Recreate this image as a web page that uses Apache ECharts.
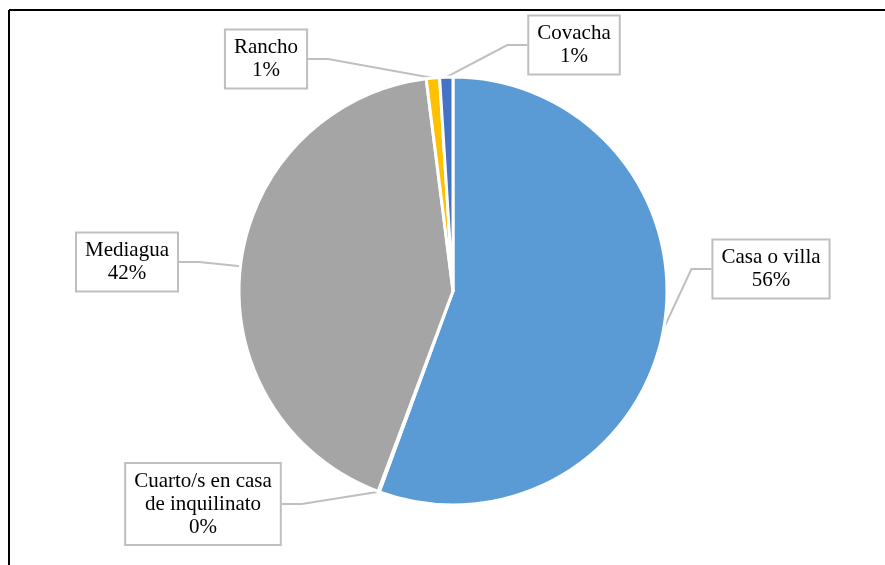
<!DOCTYPE html>
<html>
<head>
<meta charset="utf-8">
<script src="https://cdn.jsdelivr.net/npm/echarts@6/dist/echarts.min.js"></script>
<style>
  html, body { margin: 0; padding: 0; background: #fff; }
  #chart { width: 885px; height: 565px; }
</style>
</head>
<body>
<div id="chart"></div>
<script>
const categories = ['Casa o villa', 'Cuarto/s en casa\nde inquilinato', 'Mediagua', 'Rancho', 'Covacha']
const values = [55.6, 0.1, 42.3, 1.0, 1.0]
const colors = ['#5B9BD5', '#ED7D31', '#A5A5A5', '#FFC000', '#4472C4']

// where each callout box sits (centre)
const labelPos = [
  [771, 269],
  [203, 504],
  [127, 262],
  [266, 59],
  [574, 45]
]

const myChart = echarts.init(document.getElementById('chart'))

myChart.setOption({
  animation: false,
  graphic: [
    { type: 'line', shape: { x1: 9, y1: 10, x2: 885, y2: 10 }, style: { stroke: '#000', lineWidth: 2 } },
    { type: 'line', shape: { x1: 9, y1: 10, x2: 9, y2: 565 }, style: { stroke: '#000', lineWidth: 2 } }
  ],
  series: [{
    type: 'pie',
    center: [453, 291],
    radius: 214,
    startAngle: 90,
    clockwise: true,
    avoidLabelOverlap: false,
    percentPrecision: 0,
    emphasis: { disabled: true },
    itemStyle: {
      borderColor: '#fff',
      borderWidth: 3
    },
    label: {
      show: true,
      formatter: '{b}\n{d}%',
      fontFamily: 'Liberation Serif',
      fontSize: 21,
      lineHeight: 23,
      color: '#000',
      align: 'center',
      backgroundColor: '#fff',
      borderColor: '#BFBFBF',
      borderWidth: 2,
      padding: [6, 8, 5, 8]
    },
    labelLine: {
      show: true,
      length: 20,
      length2: 20,
      lineStyle: { color: '#BFBFBF', width: 2 }
    },
    labelLayout: function (params) {
      const p = labelPos[params.dataIndex]
      return { x: p[0], y: p[1], align: 'center', verticalAlign: 'middle' }
    },
    data: categories.map((name, i) => ({
      name: name,
      value: values[i],
      itemStyle: { color: colors[i] }
    }))
  }]
})
</script>
</body>
</html>
